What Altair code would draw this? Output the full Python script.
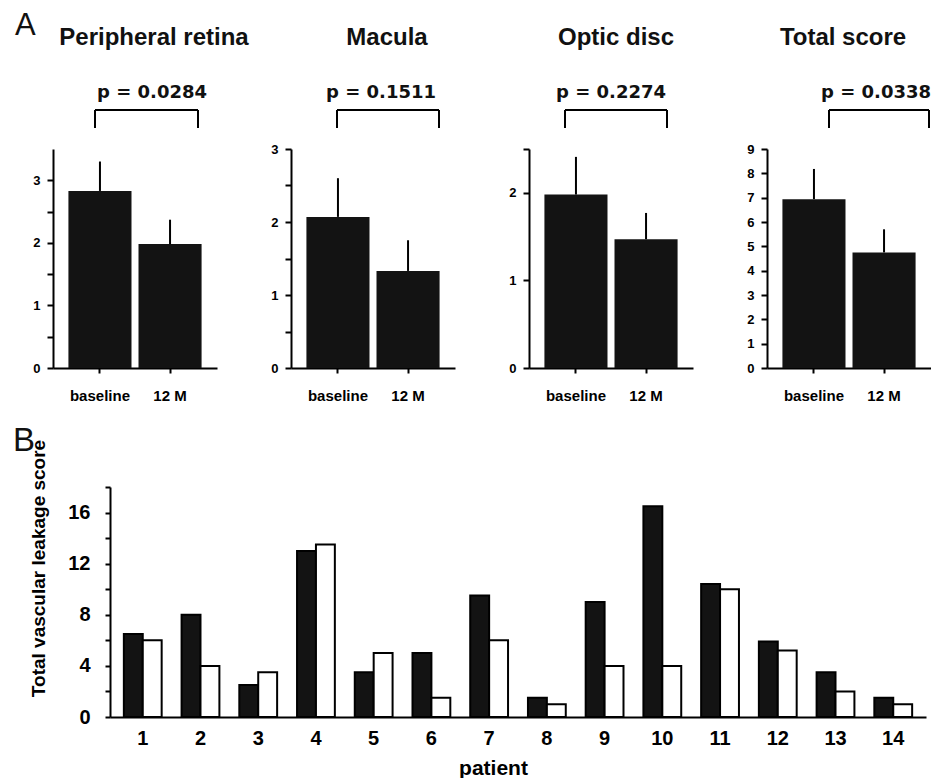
import altair as alt
import pandas as pd

# ---------------- data ----------------
groups = ["baseline", "12 M"]
panel_titles = ["Peripheral retina", "Macula", "Optic disc", "Total score"]
p_labels = ["p = 0.0284", "p = 0.1511", "p = 0.2274", "p = 0.0338"]
mean_scores = [[2.83, 1.98], [2.07, 1.33], [1.98, 1.47], [6.94, 4.75]]
upper_scores = [[3.30, 2.37], [2.60, 1.75], [2.41, 1.77], [8.18, 5.70]]
y_max = [3.5, 3.0, 2.5, 9.0]
y_ticks = [
    [0, 0.5, 1, 1.5, 2, 2.5, 3],
    [0, 0.5, 1, 1.5, 2, 2.5, 3],
    [0, 1, 2, 2.5],
    [0, 1, 2, 3, 4, 5, 6, 7, 8, 9],
]

patients = [str(i) for i in range(1, 15)]
series = ["baseline", "12 M"]
baseline_scores = [6.5, 8, 2.5, 13, 3.5, 5, 9.5, 1.5, 9, 16.5, 10.4, 5.9, 3.5, 1.5]
month12_scores = [6, 4, 3.5, 13.5, 5, 1.5, 6, 1, 4, 4, 10, 5.2, 2, 1]

# ---------------- layout constants (pixels, relative to each plot) ----------------
PW, PH = 164, 219
title_x = [101, 96, 87, 76]
title_y = -104
p_x = [99, 90, 82, 109]
p_y = -51
bracket_x1 = [42, 46, 36, 62]
bracket_x2 = [145, 148, 138, 162]
bracket_top, bracket_bottom = -39, -21

BOLD = "Liberation Sans"


def panel(i):
    df = pd.DataFrame({"group": groups, "mean": mean_scores[i], "upper": upper_scores[i]})
    one = pd.DataFrame({"title": [panel_titles[i]], "p": [p_labels[i]], "letter": ["A"]})
    xenc = alt.X(
        "group:N", sort=groups,
        scale=alt.Scale(paddingInner=0.1, paddingOuter=0.22),
        axis=alt.Axis(title=None, labelAngle=0, labelFont=BOLD, labelFontWeight="bold",
                      labelFontSize=15, labelPadding=15, tickSize=5, labelColor="black"),
    )
    yenc = alt.Y(
        "mean:Q",
        scale=alt.Scale(domain=[0, y_max[i]], nice=False, zero=True),
        axis=alt.Axis(title=None, values=y_ticks[i], grid=False, tickSize=6,
                      labelOverlap=False, labelBound=False, labelFlush=False,
                      labelExpr="datum.value % 1 == 0 ? format(datum.value, 'd') : ''",
                      labelFont=BOLD, labelFontWeight="bold", labelFontSize=13,
                      labelPadding=7, labelColor="black"),
    )
    bars = alt.Chart(df).mark_bar(color="#131313").encode(x=xenc, y=yenc)
    err = alt.Chart(df).mark_rule(color="black", strokeWidth=2).encode(
        x=xenc, y=yenc, y2="upper:Q")
    title = alt.Chart(one).mark_text(font=BOLD, fontWeight="bold", fontSize=24, align="center",
                                     baseline="alphabetic", color="#111").encode(
        x=alt.value(title_x[i]), y=alt.value(title_y), text="title:N")
    ptxt = alt.Chart(one).mark_text(font="DejaVu Sans", fontWeight="bold", fontSize=18, align="center",
                                    baseline="alphabetic", color="#111").encode(
        x=alt.value(p_x[i]), y=alt.value(p_y), text="p:N")
    br_h = alt.Chart(one).mark_rule(color="black", strokeWidth=2).encode(
        x=alt.value(bracket_x1[i]), x2=alt.value(bracket_x2[i]), y=alt.value(bracket_top))
    br_l = alt.Chart(one).mark_rule(color="black", strokeWidth=2).encode(
        x=alt.value(bracket_x1[i]), y=alt.value(bracket_top), y2=alt.value(bracket_bottom))
    br_r = alt.Chart(one).mark_rule(color="black", strokeWidth=2).encode(
        x=alt.value(bracket_x2[i]), y=alt.value(bracket_top), y2=alt.value(bracket_bottom))
    layers = [bars, err, title, ptxt, br_h, br_l, br_r]
    if i == 0:
        letter = alt.Chart(one).mark_text(font=BOLD, fontSize=31, align="left",
                                          baseline="alphabetic", color="#111").encode(
            x=alt.value(-38), y=alt.value(-114), text="letter:N")
        layers.append(letter)
    return alt.layer(*layers).properties(width=PW, height=PH)


row_a = alt.hconcat(*[panel(i) for i in range(4)], spacing=74, bounds="flush")

# ---------------- panel B ----------------
rows = []
for p, b, m in zip(patients, baseline_scores, month12_scores):
    rows.append({"patient": p, "series": series[0], "score": b})
    rows.append({"patient": p, "series": series[1], "score": m})
dfb = pd.DataFrame(rows)

bars_b = alt.Chart(dfb).mark_bar(stroke="black", strokeWidth=2).encode(
    x=alt.X("patient:N", sort=patients,
            scale=alt.Scale(paddingInner=0.345, paddingOuter=0.24),
            axis=alt.Axis(title="patient", ticks=False, labelAngle=0, labelFont=BOLD,
                          labelFontWeight="bold", labelFontSize=20, labelPadding=11,
                          labelColor="black", titleFont=BOLD, titleFontWeight="bold",
                          titleFontSize=21, titleColor="black", titleX=383, titleY=57,
                          titleBaseline="alphabetic")),
    xOffset=alt.XOffset("series:N", sort=series, scale=alt.Scale(paddingInner=0, paddingOuter=0)),
    y=alt.Y("score:Q", scale=alt.Scale(domain=[0, 18], nice=False),
            axis=alt.Axis(title="Total vascular leakage score", values=list(range(0, 19, 2)),
                          labelExpr="datum.value % 4 == 0 ? datum.label : ''", grid=False,
                          labelOverlap=False,
                          tickSize=5, labelFont=BOLD, labelFontWeight="bold", labelFontSize=20,
                          labelPadding=15, labelColor="black", titleFont=BOLD,
                          titleFontWeight="bold", titleFontSize=19, titleColor="black",
                          titleX=-72, titleY=81, titleAngle=-90, titleAlign="center",
                          titleBaseline="middle")),
    fill=alt.Fill("series:N", scale=alt.Scale(domain=series, range=["#131313", "#ffffff"]), legend=None),
)
letter_b = alt.Chart(pd.DataFrame({"letter": ["B"]})).mark_text(
    font=BOLD, fontSize=33, align="left", baseline="alphabetic", color="#111").encode(
    x=alt.value(-97), y=alt.value(-36), text="letter:N")

chart_b = alt.layer(bars_b, letter_b).properties(width=816, height=230)

# narrow empty column that pushes panel B's plot to the right of panel A's first plot
spacer = alt.Chart(pd.DataFrame({"s": [0]})).mark_point(opacity=0).encode(
    x=alt.value(0), y=alt.value(0)).properties(width=1, height=230)
row_b = alt.hconcat(spacer, chart_b, spacing=56, bounds="flush")

chart = alt.vconcat(row_a, row_b, spacing=22).properties(
    padding={"left": 5, "top": 2, "right": 0, "bottom": 0}
).configure_view(stroke=None).configure_axis(
    domainColor="black", domainWidth=2, tickColor="black", tickWidth=2
)

chart.save("out.html", embed_options={"renderer": "svg", "actions": False})
